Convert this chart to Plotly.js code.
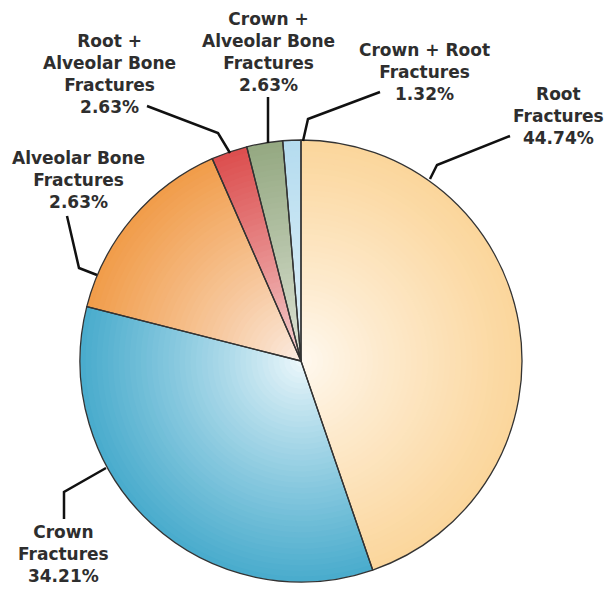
<!DOCTYPE html>
<html>
<head>
<meta charset="utf-8">
<script src="https://cdn.plot.ly/plotly-3.0.1.min.js"></script>
<style>html,body{margin:0;padding:0;background:#fff;}#chart{width:605px;height:589px;}</style>
</head>
<body>
<div id="chart"></div>
<script>
// ---- data ----
const categories = ["Root Fractures", "Crown Fractures", "Alveolar Bone Fractures",
  "Root + Alveolar Bone Fractures", "Crown + Alveolar Bone Fractures", "Crown + Root Fractures"];
const values = [44.74, 34.21, 14.47, 2.63, 2.63, 1.32];
const labelLines = [
  ["Root", "Fractures"],
  ["Crown", "Fractures"],
  ["Alveolar Bone", "Fractures"],
  ["Root +", "Alveolar Bone", "Fractures"],
  ["Crown +", "Alveolar Bone", "Fractures"],
  ["Crown + Root", "Fractures"]
];
const pctLabels = ["44.74%", "34.21%", "2.63%", "2.63%", "2.63%", "1.32%"];

// ---- style ----
const outerColors = ["#fbd69c", "#4aaccd", "#f19d4b", "#dc4f4f", "#95a982", "#b5dcef"];
const innerColors = ["#fffaf3", "#f2fafd", "#fcefe8", "#f6dada", "#e4e9de", "#e6f3f9"];
const W = 605, H = 589;
const cx = 301, cy = 361, R = 221;
const px = x => x / W;
const py = y => 1 - y / H;

function hex2rgb(h) { return [1,3,5].map(i => parseInt(h.substr(i,2),16)); }
function mix(a, b, t) {
  const A = hex2rgb(a), B = hex2rgb(b);
  return 'rgb(' + A.map((v,i) => Math.round(v + (B[i]-v)*t)).join(',') + ')';
}

const N = 40;
const traces = [];
for (let i = 0; i < N; i++) {
  const f = 1 - i / N;
  const g = Math.pow(f, 0.85);
  const cols = outerColors.map((o, k) => mix(innerColors[k], o, g));
  traces.push({
    type: 'pie', values: values, labels: categories, sort: false,
    direction: 'clockwise', rotation: 0, textinfo: 'none', hoverinfo: 'skip',
    showlegend: false,
    marker: { colors: cols, line: { width: 0 } },
    domain: { x: [px(cx - f*R), px(cx + f*R)], y: [py(cy + f*R), py(cy - f*R)] }
  });
}
// outline layer
traces.push({
  type: 'pie', values: values, labels: categories, sort: false,
  direction: 'clockwise', rotation: 0, textinfo: 'none', hoverinfo: 'skip',
  showlegend: false,
  marker: { colors: values.map(() => 'rgba(0,0,0,0)'), line: { color: '#333333', width: 1.3 } },
  domain: { x: [px(cx - R), px(cx + R)], y: [py(cy + R), py(cy - R)] }
});

// label block centres (pixels) and leader lines
const labelPos = [[558, 116], [63, 554], [78, 180], [109, 74], [268, 52], [424, 72]];
const leaders = [
  [[510,136],[437,165],[430,179]],
  [[106,468],[64,492],[64,519]],
  [[67,216],[79,268],[97,275]],
  [[147,106],[218,133],[230,153]],
  [[268,97],[268,143]],
  [[380,92],[308,119],[303,141]]
];

const annotations = categories.map((c, k) => ({
  xref: 'paper', yref: 'paper', x: px(labelPos[k][0]), y: py(labelPos[k][1]),
  xanchor: 'center', yanchor: 'middle', showarrow: false, align: 'center',
  text: labelLines[k].concat([pctLabels[k]]).join('<br>'),
  font: { family: 'DejaVu Sans', size: 17, color: '#2e2e2e', weight: 'bold' }
}));

const shapes = leaders.map(pts => ({
  type: 'path', xref: 'paper', yref: 'paper',
  path: pts.map((p, j) => (j ? 'L' : 'M') + px(p[0]) + ',' + py(p[1])).join(' '),
  line: { color: '#111111', width: 2.5 }
}));

const layout = {
  width: W, height: H, margin: { l: 0, r: 0, t: 0, b: 0 },
  paper_bgcolor: '#ffffff', showlegend: false,
  annotations: annotations, shapes: shapes
};
Plotly.newPlot('chart', traces, layout, { staticPlot: true, displayModeBar: false });
</script>
</body>
</html>
